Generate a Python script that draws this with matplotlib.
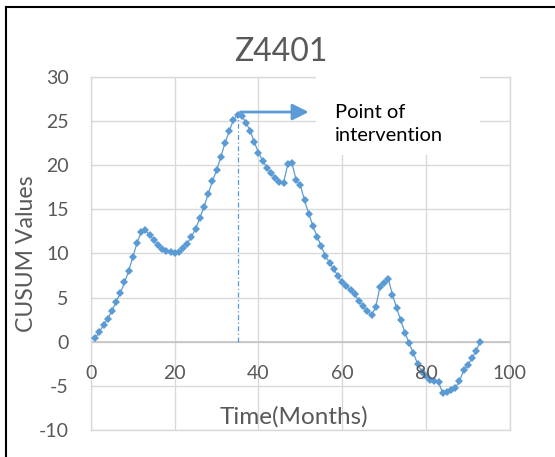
import matplotlib
matplotlib.use("Agg")
import matplotlib.pyplot as plt
from matplotlib.patches import Rectangle
from matplotlib.lines import Line2D
from matplotlib.transforms import ScaledTranslation

plt.rcParams["font.family"] = ["Lato", "DejaVu Sans"]
plt.rcParams["axes.unicode_minus"] = False

BLUE = "#5B9BD5"
GRID = "#d9d9d9"
TXT = "#595959"

# ---- data --------------------------------------------------------------------
months = list(range(1, 94))
cusum = [0.4, 1.1, 1.9, 2.6, 3.5, 4.5, 5.5, 6.7, 8.0, 9.6,
         11.2, 12.4, 12.6, 12.1, 11.5, 10.9, 10.5, 10.3, 10.1, 10.0,
         10.1, 10.6, 11.1, 11.9, 12.8, 14.0, 15.3, 16.7, 18.2, 19.4,
         20.9, 22.5, 23.8, 25.1, 25.7, 25.6, 24.8, 23.9, 22.6, 21.4,
         20.5, 19.7, 19.1, 18.5, 18.1, 18.0, 20.1, 20.2, 18.3, 17.7,
         16.0, 14.5, 13.1, 11.9, 10.8, 9.7, 8.9, 8.2, 7.4, 6.7,
         6.3, 5.8, 5.4, 4.6, 4.0, 3.5, 3.0, 3.9, 6.2, 6.6,
         7.1, 5.3, 3.8, 2.4, 1.0, -0.2, -1.3, -2.5, -3.4, -3.9,
         -4.3, -4.4, -4.6, -5.8, -5.7, -5.5, -5.2, -4.5, -3.2, -2.6,
         -1.9, -1.0, 0.0]
xticks = [0, 20, 40, 60, 80, 100]
yticks = [-10, -5, 0, 5, 10, 15, 20, 25, 30]
interv_x = 35.1
interv_top = 25.6
arrow_from, arrow_to, arrow_y = 35.7, 52.0, 26.0

W, H = 555, 457
fig = plt.figure(figsize=(W / 100, H / 100), dpi=100)
ax = fig.add_axes([91 / W, 1 - 430 / H, (509.7 - 91) / W, (430 - 76.7) / H])

ax.plot(months, cusum, color=BLUE, lw=0.9, marker="D", ms=4,
        markeredgewidth=0, zorder=3)
ax.plot([interv_x, interv_x], [0, interv_top], color=BLUE, lw=0.9,
        linestyle=(0, (4, 2, 1, 2)), zorder=2)
ax.annotate("", xy=(arrow_to, arrow_y), xytext=(arrow_from, arrow_y),
            arrowprops=dict(arrowstyle="-|>,head_length=0.7,head_width=0.35",
                            mutation_scale=14, color=BLUE, lw=2,
                            shrinkA=0, shrinkB=0), zorder=4)

ax.set_xlim(0, 100)
ax.set_ylim(-10, 30)
ax.set_xticks(xticks)
ax.set_yticks(yticks)
ax.grid(True, color=GRID, lw=1)
ax.set_axisbelow(True)
ax.axhline(0, color="#bfbfbf", lw=1.1, zorder=1)
for s in ax.spines.values():
    s.set_color(GRID)
    s.set_linewidth(1)
ax.tick_params(length=0, labelsize=14, labelcolor=TXT, pad=16)
ax.set_xticklabels([])
# x labels sit just under the zero line (axis crosses at 0)
off = ScaledTranslation(0, -23 / 100, fig.dpi_scale_trans)
for t in xticks:
    ax.text(t, 0, str(t), transform=ax.transData + off, ha="center", va="top",
            fontsize=14, color=TXT, zorder=5)

fig.text(281 / W, 1 - 52 / H, "Z4401", ha="center", va="center",
         fontsize=23, color=TXT)
fig.text(26.5 / W, 1 - 254 / H, "CUSUM Values", rotation=90, ha="center",
         va="center", fontsize=16.6, color=TXT)
fig.text(294 / W, 1 - 417 / H, "Time(Months)", ha="center", va="center",
         fontsize=17.5, color=TXT)

# white text box covering the gridlines
fig.add_artist(Rectangle((316 / W, 1 - 155 / H), (480 - 316) / W, 80 / H,
                         transform=fig.transFigure, facecolor="white",
                         edgecolor="none", zorder=5))
fig.text(335 / W, 1 - 104 / H, "Point of\nintervention", ha="left", va="top",
         fontsize=14.5, color="black", linespacing=1.45, zorder=6)

# outer frame (left and top edges visible)
fig.add_artist(Line2D([6 / W, 6 / W], [0, 1 - 7 / H], color="black", lw=1.5,
                      transform=fig.transFigure))
fig.add_artist(Line2D([6 / W, 1], [1 - 7 / H, 1 - 7 / H], color="black", lw=1.5,
                      transform=fig.transFigure))

fig.savefig("out.png", dpi=100)
